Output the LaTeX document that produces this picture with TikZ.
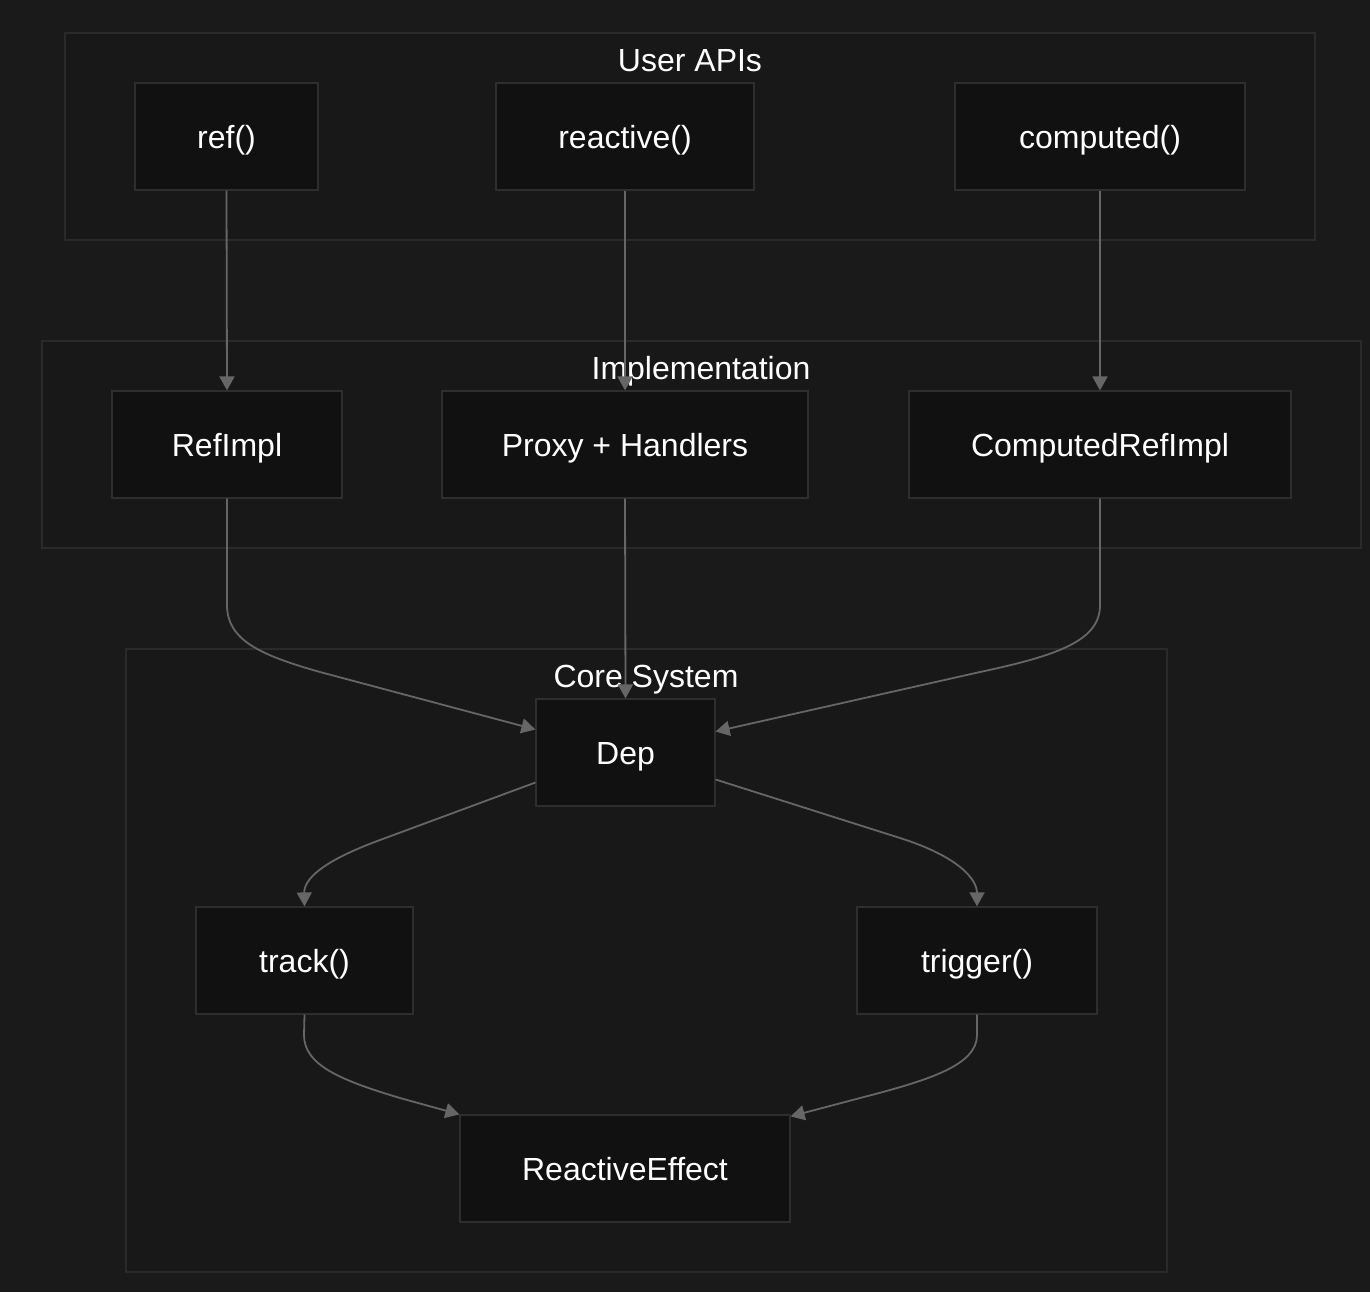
\documentclass[tikz,border=0pt]{standalone}
\usepackage{fontspec}
\setmainfont{Liberation Sans}
\usetikzlibrary{arrows.meta}
\definecolor{bgcol}{HTML}{1A1A1A}
\definecolor{clustfill}{HTML}{181818}
\definecolor{clustline}{HTML}{2A2A2A}
\definecolor{boxfill}{HTML}{111111}
\definecolor{boxline}{HTML}{2E2E2E}
\definecolor{edgecol}{HTML}{666666}
\begin{document}
\begin{tikzpicture}[x=0.5pt, y=-0.5pt,
		box/.style={draw=boxline, fill=boxfill, line width=0.6pt, text=white, font=\fontsize{16}{18}\selectfont, text height=12pt, text depth=0pt, minimum height=53.5pt, inner sep=0pt},
		cluster/.style={draw=clustline, fill=clustfill, line width=0.6pt},
		title/.style={text=white, font=\fontsize{16}{18}\selectfont, text height=12pt, text depth=0pt, inner sep=0pt},
		edge/.style={draw=edgecol, line width=0.9pt, -{Triangle[length=7pt, width=7.5pt]}}]
	\fill[bgcol] (0,0) rectangle (1370,1292);
	\useasboundingbox (0,0) rectangle (1370,1292);
	% clusters
	\draw[cluster] (65,33) rectangle (1315,240);
	\draw[cluster] (42,341) rectangle (1361,548);
	\draw[cluster] (126,649) rectangle (1167,1272);
	\node[title] (tuser) at (690,59) {User APIs};
	\node[title] (timpl) at (701,367) {Implementation};
	\node[title] (tcore) at (646,675) {Core System};
	% nodes
	\node[box, minimum width=91.5pt] (reff) at (226.5,136.5) {ref()};
	\node[box, minimum width=129pt] (reactive) at (625,136.5) {reactive()};
	\node[box, minimum width=145pt] (computed) at (1100,136.5) {computed()};
	\node[box, minimum width=115pt] (refimpl) at (227,444.5) {RefImpl};
	\node[box, minimum width=183pt] (proxy) at (625,444.5) {Proxy + Handlers};
	\node[box, minimum width=191pt] (compimpl) at (1100,444.5) {ComputedRefImpl};
	\node[box, minimum width=89.5pt] (dep) at (625.5,752.5) {Dep};
	\node[box, minimum width=108.5pt] (track) at (304.5,960.5) {track()};
	\node[box, minimum width=120pt] (trigger) at (977,960.5) {trigger()};
	\node[box, minimum width=165pt] (effect) at (625,1168.5) {ReactiveEffect};
	% edges
	\draw[edge] (reff.south) -- (refimpl.north);
	\draw[edge] (reactive.south) -- (proxy.north);
	\draw[edge] (computed.south) -- (compimpl.north);
	\draw[edge] (refimpl.south) -- (227,605) .. controls (227,640) and (260,655) .. (320,672) -- ([yshift=11.5pt]dep.west);
	\draw[edge] (proxy.south) -- (dep.north);
	\draw[edge] (compimpl.south) -- (1100,605) .. controls (1100,640) and (1060,655) .. (980,672) -- ([yshift=10.5pt]dep.east);
	\draw[edge] ([yshift=-15pt]dep.west) -- (380,840) .. controls (320,862) and (304,880) .. (track.north);
	\draw[edge] ([yshift=-13.5pt]dep.east) -- (900,838) .. controls (960,857) and (977,880) .. (trigger.north);
	\draw[edge] (track.south) -- (304,1035) .. controls (304,1065) and (340,1080) .. (400,1098) -- (effect.north west);
	\draw[edge] (trigger.south) -- (977,1035) .. controls (977,1065) and (930,1080) .. (860,1098) -- ([yshift=-1pt]effect.north east);
\end{tikzpicture}
\end{document}
